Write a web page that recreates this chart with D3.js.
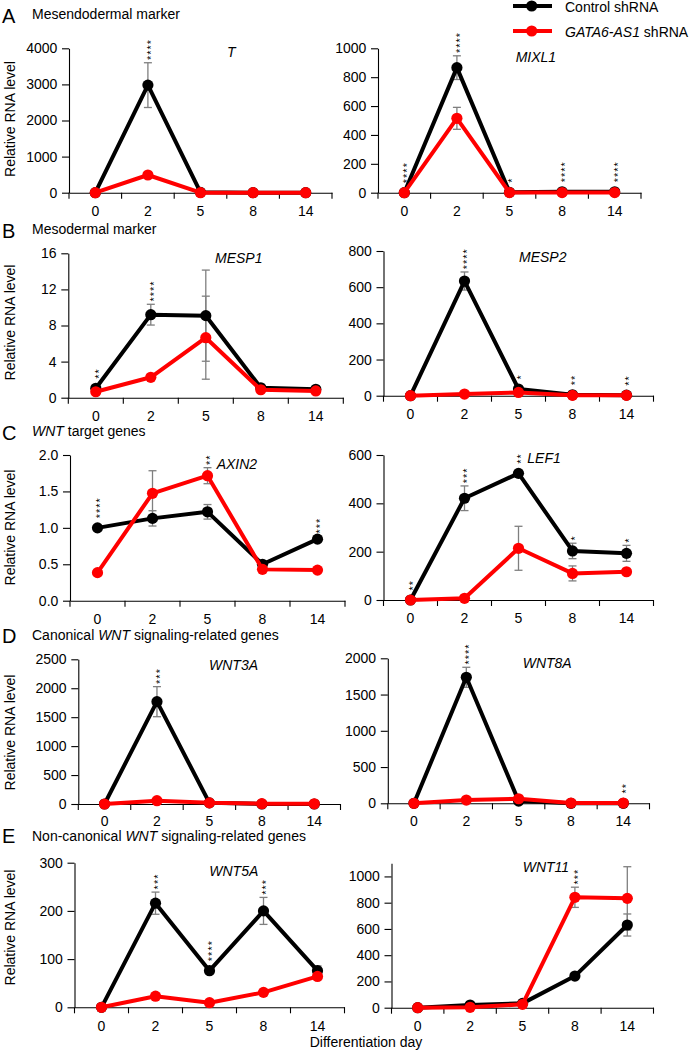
<!DOCTYPE html>
<html><head><meta charset="utf-8">
<script src="https://cdn.jsdelivr.net/npm/d3@7"></script>
<style>
body{margin:0;background:#fff}
svg{display:block}
</style>
</head><body>
<svg id="c" width="693" height="1050" font-family="Arial"></svg>
<script>
// ---------- DATA ----------
const days = ["0", "2", "5", "8", "14"];
const seriesNames = ["Control shRNA", "GATA6-AS1 shRNA"];

const tCtrl = [0, 2980, 10, 0, 0];
const tCtrlErr = [0, 620, 0, 0, 0];
const tKd = [0, 490, 0, 0, 0];
const tKdErr = [0, 0, 0, 0, 0];
const tSig = ["", "****", "", "", ""];

const mixl1Ctrl = [0, 866, 3, 6, 6];
const mixl1CtrlErr = [0, 82, 0, 0, 0];
const mixl1Kd = [0, 515, 1, 1, 1];
const mixl1KdErr = [0, 76, 0, 0, 0];
const mixl1Sig = ["****", "****", "*", "****", "****"];

const mesp1Ctrl = [1.04, 9.2, 9.09, 1.1, 0.93];
const mesp1CtrlErr = [0, 1.15, 5.05, 0, 0];
const mesp1Kd = [0.66, 2.26, 6.65, 0.88, 0.75];
const mesp1KdErr = [0, 0, 4.6, 0, 0];
const mesp1Sig = ["**", "****", "", "", ""];

const mesp2Ctrl = [0, 634, 37, 5, 3];
const mesp2CtrlErr = [0, 50, 0, 0, 0];
const mesp2Kd = [0, 9, 18, 2, 2];
const mesp2KdErr = [0, 0, 0, 0, 0];
const mesp2Sig = ["", "****", "*", "**", "**"];

const axin2Ctrl = [1.0, 1.13, 1.22, 0.5, 0.845];
const axin2CtrlErr = [0, 0.105, 0.1, 0.02, 0.04];
const axin2Kd = [0.385, 1.474, 1.716, 0.43, 0.42];
const axin2KdErr = [0, 0.31, 0.11, 0, 0];
const axin2Sig = ["****", "", "**", "", "***"];

const lef1Ctrl = [0, 421, 524, 203, 193];
const lef1CtrlErr = [0, 51, 0, 32, 33];
const lef1Kd = [0, 7, 214, 110, 117];
const lef1KdErr = [0, 0, 91, 31, 10];
const lef1Sig = ["**", "***", "**", "*", "*"];

const wnt3aCtrl = [0, 1768, 20, 0, 0];
const wnt3aCtrlErr = [0, 260, 0, 0, 0];
const wnt3aKd = [0, 57, 20, 5, 3];
const wnt3aKdErr = [0, 0, 0, 0, 0];
const wnt3aSig = ["", "***", "", "", ""];

const wnt8aCtrl = [0, 1738, 30, 0, 0];
const wnt8aCtrlErr = [0, 138, 0, 0, 0];
const wnt8aKd = [0, 45, 63, 3, 3];
const wnt8aKdErr = [0, 0, 0, 0, 0];
const wnt8aSig = ["", "****", "", "", "**"];

const wnt5aCtrl = [0, 216, 76, 200, 76];
const wnt5aCtrlErr = [0, 23, 0, 28, 10];
const wnt5aKd = [0, 23, 9.5, 31, 64];
const wnt5aKdErr = [0, 0, 0, 0, 0];
const wnt5aSig = ["", "***", "****", "***", ""];

const wnt11Ctrl = [0, 20, 33, 241, 630];
const wnt11CtrlErr = [0, 0, 0, 0, 84];
const wnt11Kd = [0, 3, 26, 841, 833];
const wnt11KdErr = [0, 0, 0, 77, 241];
const wnt11Sig = ["", "", "", "***", ""];

// y-axis tick labels per panel
const tTicks = [0, 1000, 2000, 3000, 4000];
const mixl1Ticks = [0, 200, 400, 600, 800, 1000];
const mesp1Ticks = [0, 4, 8, 12, 16];
const mesp2Ticks = [0, 200, 400, 600, 800];
const axin2Ticks = [0, 0.5, 1.0, 1.5, 2.0];
const lef1Ticks = [0, 200, 400, 600];
const wnt3aTicks = [0, 500, 1000, 1500, 2000, 2500];
const wnt8aTicks = [0, 500, 1000, 1500, 2000];
const wnt5aTicks = [0, 100, 200, 300];
const wnt11Ticks = [0, 200, 400, 600, 800, 1000];

// ---------- LAYOUT ----------
const panels = [
  {gene:"T", x0:69, x1:332, yT:48.3, yB:192.7, max:4000, ticks:tTicks, fmt:"d", tx:227, ty:57,
   ctrl:tCtrl, ctrlErr:tCtrlErr, kd:tKd, kdErr:tKdErr, sig:tSig},
  {gene:"MIXL1", x0:378, x1:641, yT:48.3, yB:192.7, max:1000, ticks:mixl1Ticks, fmt:"d", tx:515.7, ty:61.5,
   ctrl:mixl1Ctrl, ctrlErr:mixl1CtrlErr, kd:mixl1Kd, kdErr:mixl1KdErr, sig:mixl1Sig},
  {gene:"MESP1", x0:68.3, x1:343.3, yT:253.3, yB:397.7, max:16, ticks:mesp1Ticks, fmt:"d", tx:215, ty:263.3,
   ctrl:mesp1Ctrl, ctrlErr:mesp1CtrlErr, kd:mesp1Kd, kdErr:mesp1KdErr, sig:mesp1Sig},
  {gene:"MESP2", x0:383.5, x1:653.5, yT:251, yB:395.7, max:800, ticks:mesp2Ticks, fmt:"d", tx:519, ty:261.7,
   ctrl:mesp2Ctrl, ctrlErr:mesp2CtrlErr, kd:mesp2Kd, kdErr:mesp2KdErr, sig:mesp2Sig},
  {gene:"AXIN2", x0:70, x1:345, yT:455, yB:600.7, max:2, ticks:axin2Ticks, fmt:".1f", tx:216.7, ty:469,
   ctrl:axin2Ctrl, ctrlErr:axin2CtrlErr, kd:axin2Kd, kdErr:axin2KdErr, sig:axin2Sig},
  {gene:"LEF1", x0:383.5, x1:653.5, yT:455, yB:600, max:600, ticks:lef1Ticks, fmt:"d", tx:527.3, ty:463.3,
   ctrl:lef1Ctrl, ctrlErr:lef1CtrlErr, kd:lef1Kd, kdErr:lef1KdErr, sig:lef1Sig},
  {gene:"WNT3A", x0:78.3, x1:340.5, yT:659.3, yB:804, max:2500, ticks:wnt3aTicks, fmt:"d", tx:209, ty:670,
   ctrl:wnt3aCtrl, ctrlErr:wnt3aCtrlErr, kd:wnt3aKd, kdErr:wnt3aKdErr, sig:wnt3aSig, lab:12.5},
  {gene:"WNT8A", x0:387.8, x1:649.5, yT:658.3, yB:803.3, max:2000, ticks:wnt8aTicks, fmt:"d", tx:522.7, ty:667.7,
   ctrl:wnt8aCtrl, ctrlErr:wnt8aCtrlErr, kd:wnt8aKd, kdErr:wnt8aKdErr, sig:wnt8aSig, lab:12.5},
  {gene:"WNT5A", x0:74.5, x1:344.5, yT:862.7, yB:1007.3, max:300, ticks:wnt5aTicks, fmt:"d", tx:209.3, ty:875.7,
   ctrl:wnt5aCtrl, ctrlErr:wnt5aCtrlErr, kd:wnt5aKd, kdErr:wnt5aKdErr, sig:wnt5aSig},
  {gene:"WNT11", x0:391.5, x1:653.5, yT:863.3, yB:1007.7, max:1100, ticks:wnt11Ticks, fmt:"d", tx:522.7, ty:871.7,
   ctrl:wnt11Ctrl, ctrlErr:wnt11CtrlErr, kd:wnt11Kd, kdErr:wnt11KdErr, sig:wnt11Sig}
];

const rows = [
  {letter:"A", ly:22.7, ty:19, parts:[["Mesendodermal marker", false]], ylab:119},
  {letter:"B", ly:237.7, ty:234.3, parts:[["Mesodermal marker", false]], ylab:322.5},
  {letter:"C", ly:440, ty:436, parts:[["WNT", true], [" target genes", false]], ylab:527.5},
  {letter:"D", ly:643.3, ty:640, parts:[["Canonical ", false], ["WNT", true], [" signaling-related genes", false]], ylab:732.5},
  {letter:"E", ly:843.3, ty:840.7, parts:[["Non-canonical ", false], ["WNT", true], [" signaling-related genes", false]], ylab:927.5}
];

const COL_CTRL = "#000000", COL_KD = "#ff0000", COL_ERR = "#7f7f7f";
const FONT = "Arial";
const svg = d3.select("#c");

// Row headings and y labels
rows.forEach(r => {
  svg.append("text").attr("x", 2).attr("y", r.ly).attr("font-family", FONT).attr("font-size", 20).attr("fill", "#000").text(r.letter);
  const t = svg.append("text").attr("x", 32).attr("y", r.ty).attr("font-family", FONT).attr("font-size", 14).attr("fill", "#000");
  r.parts.forEach(([s, it]) => t.append("tspan").attr("font-style", it ? "italic" : "normal").text(s));
  svg.append("text").attr("transform", `translate(15,${r.ylab}) rotate(-90)`).attr("font-family", FONT)
    .attr("text-anchor", "middle").attr("font-size", 14).attr("fill", "#000").text("Relative RNA level");
});

panels.forEach(p => {
  const g = svg.append("g");
  const x = d3.scaleBand().domain(days).range([p.x0, p.x1]).padding(0);
  const y = d3.scaleLinear().domain([0, p.max]).range([p.yB, p.yT]);
  const cx = d => x(d) + x.bandwidth() / 2;

  const ya = g.append("g").attr("transform", `translate(${p.x0},0)`)
    .call(d3.axisLeft(y).tickValues(p.ticks).tickFormat(d3.format(p.fmt)).tickSize(7).tickSizeOuter(0).tickPadding(4.7));
  const xa = g.append("g").attr("transform", `translate(0,${p.yB})`)
    .call(d3.axisBottom(x).tickSize(0).tickSizeOuter(0).tickPadding(p.lab || 13.5));
  [ya, xa].forEach(a => {
    a.attr("font-family", FONT).attr("font-size", 14);
    a.selectAll("path.domain").attr("stroke", "#000").attr("stroke-width", 1.1);
    a.selectAll("line").attr("stroke", "#000").attr("stroke-width", 1.1);
    a.selectAll("text").attr("fill", "#000");
  });
  const bounds = days.map(d => x(d)).concat([p.x1]);
  g.append("g").selectAll("line").data(bounds).join("line")
    .attr("x1", d => d).attr("x2", d => d).attr("y1", p.yB).attr("y2", p.yB + 6)
    .attr("stroke", "#000").attr("stroke-width", 1.1);

  g.append("text").attr("x", p.tx).attr("y", p.ty).attr("font-family", FONT).attr("font-size", 14)
    .attr("font-style", "italic").attr("fill", "#000").text(p.gene);

  const series = [
    {vals: p.ctrl, err: p.ctrlErr, col: COL_CTRL},
    {vals: p.kd, err: p.kdErr, col: COL_KD}
  ];
  series.forEach(s => {
    const eb = days.map((d, i) => ({d, v: s.vals[i], e: s.err[i]})).filter(o => o.e > 0);
    const eg = g.append("g").attr("stroke", COL_ERR).attr("stroke-width", 1.3);
    eg.selectAll("line.v").data(eb).join("line").attr("class", "v")
      .attr("x1", o => cx(o.d)).attr("x2", o => cx(o.d))
      .attr("y1", o => y(o.v + o.e)).attr("y2", o => y(Math.max(0, o.v - o.e)));
    eg.selectAll("line.t").data(eb).join("line").attr("class", "t")
      .attr("x1", o => cx(o.d) - 4).attr("x2", o => cx(o.d) + 4)
      .attr("y1", o => y(o.v + o.e)).attr("y2", o => y(o.v + o.e));
    eg.selectAll("line.b").data(eb).join("line").attr("class", "b")
      .attr("x1", o => cx(o.d) - 4).attr("x2", o => cx(o.d) + 4)
      .attr("y1", o => y(Math.max(0, o.v - o.e))).attr("y2", o => y(Math.max(0, o.v - o.e)));
  });
  series.forEach(s => {
    const pts = days.map((d, i) => ({d, v: s.vals[i]}));
    g.append("path").datum(pts)
      .attr("d", d3.line().x(o => cx(o.d)).y(o => y(o.v)))
      .attr("fill", "none").attr("stroke", s.col).attr("stroke-width", 4).attr("stroke-linejoin", "round");
    g.append("g").selectAll("circle").data(pts).join("circle")
      .attr("cx", o => cx(o.d)).attr("cy", o => y(o.v)).attr("r", 5.6).attr("fill", s.col);
  });
  days.forEach((d, i) => {
    const s = p.sig[i];
    if (!s) return;
    let top = Infinity;
    series.forEach(se => {
      const v = se.vals[i], e = se.err[i];
      const yy = e > 0 ? y(v + e) - 2.7 : y(v) - 9.5;
      top = Math.min(top, yy);
    });
    g.append("text").attr("transform", `translate(${cx(d)},${top}) rotate(-90)`).attr("font-family", FONT)
      .attr("font-size", 11).attr("letter-spacing", 1).attr("dy", "0.62em")
      .attr("fill", "#000").text(s);
  });
});

const leg = [
  {y: 6, col: COL_CTRL, parts: [["Control shRNA", false]], ty: 11.7},
  {y: 31, col: COL_KD, parts: [["GATA6-AS1", true], [" shRNA", false]], ty: 36.7}
];
leg.forEach(l => {
  svg.append("line").attr("x1", 513).attr("x2", 552).attr("y1", l.y).attr("y2", l.y)
    .attr("stroke", l.col).attr("stroke-width", 4);
  svg.append("circle").attr("cx", 531.7).attr("cy", l.y).attr("r", 5.6).attr("fill", l.col);
  const t = svg.append("text").attr("x", 565).attr("y", l.ty).attr("font-family", FONT).attr("font-size", 14).attr("fill", "#000");
  l.parts.forEach(([s, it]) => t.append("tspan").attr("font-style", it ? "italic" : "normal").text(s));
});

svg.append("text").attr("x", 366).attr("y", 1046.5).attr("text-anchor", "middle").attr("font-family", FONT)
  .attr("font-size", 14).attr("fill", "#000").text("Differentiation day");
</script>
</body></html>
